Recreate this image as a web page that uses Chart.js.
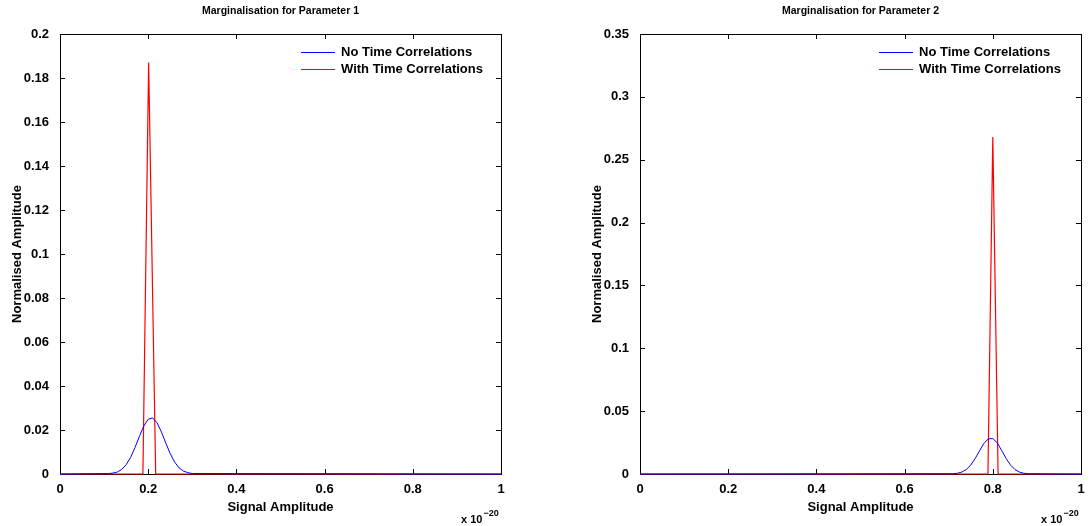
<!DOCTYPE html>
<html>
<head>
<meta charset="utf-8">
<script src="https://cdn.jsdelivr.net/npm/chart.js@4.4.1/dist/chart.umd.min.js"></script>
<style>
  html, body { margin: 0; padding: 0; background: #fff; }
  #wrap { position: relative; width: 1090px; height: 526px; overflow: hidden; }
  canvas { position: absolute; top: 0; }
</style>
</head>
<body>
<div id="wrap">
  <canvas id="chart1" width="545" height="526" style="left:0"></canvas>
  <canvas id="chart2" width="545" height="526" style="left:545px"></canvas>
</div>
<script>
// tick labels
const xTicks = [0, 0.2, 0.4, 0.6, 0.8, 1];
const yTicks1 = [0, 0.02, 0.04, 0.06, 0.08, 0.1, 0.12, 0.14, 0.16, 0.18, 0.2];
const yTicks2 = [0, 0.05, 0.1, 0.15, 0.2, 0.25, 0.3, 0.35];

const seriesNames = ['No Time Correlations', 'With Time Correlations'];
const seriesColors = ['#0000ff', '#ff0000'];

// parameter 1
const blueX1 = [0, 0.11, 0.12, 0.13, 0.14, 0.15, 0.16, 0.17, 0.18, 0.19, 0.20, 0.21, 0.22, 0.23, 0.24, 0.25, 0.26, 0.27, 0.28, 0.29, 0.30, 1];
const blueY1 = [0, 0.0002, 0.0004, 0.0009, 0.0021, 0.0042, 0.0075, 0.0120, 0.0171, 0.0218, 0.0249, 0.0255, 0.0233, 0.0191, 0.0140, 0.0092, 0.0054, 0.0028, 0.0013, 0.0006, 0.0002, 0];
const redX1 = [0, 0.188, 0.201, 0.217, 1];
const redY1 = [0, 0, 0.187, 0, 0];

// parameter 2
const blueX2 = [0, 0.71, 0.72, 0.73, 0.74, 0.75, 0.76, 0.77, 0.78, 0.79, 0.80, 0.81, 0.82, 0.83, 0.84, 0.85, 0.86, 0.87, 0.88, 1];
const blueY2 = [0, 0.0002, 0.0006, 0.0016, 0.0036, 0.0071, 0.0123, 0.0185, 0.0244, 0.0280, 0.0282, 0.0248, 0.0188, 0.0125, 0.0072, 0.0036, 0.0016, 0.0006, 0.0002, 0];
const redX2 = [0, 0.789, 0.800, 0.812, 1];
const redY2 = [0, 0, 0.268, 0, 0];

const FONT = '"Liberation Sans", Arial, Helvetica, sans-serif';

function pts(xs, ys) {
    return xs.map((x, i) => ({ x: x, y: ys[i] }));
}

function fmt(v) {
    return String(+v.toFixed(2));
}

// draws the MATLAB style box, inward ticks, titles, legend and exponent
function matlabPlugin(title, legendLeft) {
    return {
        id: 'matlab',
        beforeDatasetsDraw(chart) {
            const ctx = chart.ctx;
            const a = chart.chartArea;
            const xs = chart.scales.x, ys = chart.scales.y;
            ctx.save();
            ctx.strokeStyle = '#000';
            ctx.lineWidth = 1;
            ctx.strokeRect(Math.round(a.left) + 0.5, Math.round(a.top) + 0.5,
                Math.round(a.right - a.left), Math.round(a.bottom - a.top));
            ctx.beginPath();
            xs.ticks.forEach(t => {
                const px = Math.round(xs.getPixelForValue(t.value)) + 0.5;
                ctx.moveTo(px, a.bottom); ctx.lineTo(px, a.bottom - 5);
                ctx.moveTo(px, a.top); ctx.lineTo(px, a.top + 5);
            });
            ys.ticks.forEach(t => {
                const py = Math.round(ys.getPixelForValue(t.value)) + 0.5;
                ctx.moveTo(a.left, py); ctx.lineTo(a.left + 5, py);
                ctx.moveTo(a.right, py); ctx.lineTo(a.right - 5, py);
            });
            ctx.stroke();
            ctx.restore();
        },
        afterDraw(chart) {
            const ctx = chart.ctx;
            const a = chart.chartArea;
            const cx = (a.left + a.right) / 2;
            ctx.save();
            ctx.fillStyle = '#000';
            ctx.textBaseline = 'middle';

            // title
            ctx.font = 'bold 10.5px ' + FONT;
            ctx.textAlign = 'center';
            ctx.fillText(title, cx, 11);

            // axis titles
            ctx.font = 'bold 13px ' + FONT;
            ctx.fillText('Signal Amplitude', cx, 507);
            ctx.save();
            ctx.translate(a.left - 43, (a.top + a.bottom) / 2);
            ctx.rotate(-Math.PI / 2);
            ctx.fillText('Normalised Amplitude', 0, 0);
            ctx.restore();

            // exponent
            ctx.textAlign = 'left';
            ctx.textBaseline = 'alphabetic';
            ctx.font = 'bold 11px ' + FONT;
            const ex = a.right - 40;
            ctx.fillText('x 10', ex, 523);
            const w = ctx.measureText('x 10').width;
            ctx.font = 'bold 9px ' + FONT;
            ctx.fillText('\u221220', ex + w + 1, 516);

            // legend
            ctx.font = 'bold 13px ' + FONT;
            ctx.textBaseline = 'middle';
            seriesNames.forEach((name, i) => {
                const y = 52 + i * 17;
                ctx.strokeStyle = seriesColors[i];
                ctx.lineWidth = 1;
                ctx.beginPath();
                ctx.moveTo(legendLeft, y + 0.5);
                ctx.lineTo(legendLeft + 34, y + 0.5);
                ctx.stroke();
                ctx.fillText(name, legendLeft + 40, y);
            });
            ctx.restore();
        }
    };
}

function makeChart(id, blue, red, yTicks, yMax, yWidth, rightPad, title, legendLeft) {
    return new Chart(document.getElementById(id), {
        type: 'line',
        data: {
            datasets: [
                { label: seriesNames[0], data: blue, borderColor: seriesColors[0], borderWidth: 1, pointRadius: 0, tension: 0, clip: false },
                { label: seriesNames[1], data: red, borderColor: seriesColors[1], borderWidth: 1.2, pointRadius: 0, tension: 0, clip: false }
            ]
        },
        options: {
            responsive: false,
            animation: false,
            events: [],
            layout: { padding: { top: 34, right: rightPad, left: 0, bottom: 0 } },
            plugins: { legend: { display: false }, title: { display: false }, tooltip: { enabled: false } },
            scales: {
                x: {
                    type: 'linear', min: 0, max: 1,
                    grid: { display: false }, border: { display: false },
                    afterBuildTicks: s => { s.ticks = xTicks.map(v => ({ value: v })); },
                    afterFit: s => { s.height = 52; },
                    ticks: { color: '#000', padding: 0, maxRotation: 0, autoSkip: false,
                        font: { family: FONT, size: 13, weight: 'bold' }, callback: v => fmt(v) }
                },
                y: {
                    type: 'linear', min: 0, max: yMax,
                    grid: { display: false }, border: { display: false },
                    afterBuildTicks: s => { s.ticks = yTicks.map(v => ({ value: v })); },
                    afterFit: s => { s.width = yWidth; },
                    ticks: { color: '#000', padding: 3, autoSkip: false,
                        font: { family: FONT, size: 13, weight: 'bold' }, callback: v => fmt(v) }
                }
            }
        },
        plugins: [matlabPlugin(title, legendLeft)]
    });
}

makeChart('chart1', pts(blueX1, blueY1), pts(redX1, redY1), yTicks1, 0.2, 60, 44,
    'Marginalisation for Parameter 1', 301);
makeChart('chart2', pts(blueX2, blueY2), pts(redX2, redY2), yTicks2, 0.35, 95, 9,
    'Marginalisation for Parameter 2', 334);
</script>
</body>
</html>
